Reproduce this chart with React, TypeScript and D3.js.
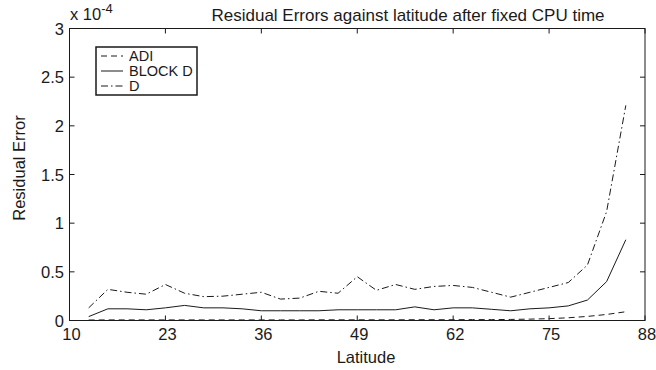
import React from "react";
import * as d3 from "d3";

const latitudes = [12.6, 15.2, 17.8, 20.4, 23, 25.6, 28.2, 30.8, 33.4, 36, 38.6, 41.2, 43.8, 46.4, 49, 51.6, 54.2, 56.8, 59.4, 62, 64.6, 67.2, 69.8, 72.4, 75, 77.6, 80.2, 82.8, 85.4];
const adi = [0.005, 0.006, 0.006, 0.006, 0.006, 0.006, 0.006, 0.006, 0.006, 0.006, 0.006, 0.006, 0.007, 0.007, 0.007, 0.007, 0.007, 0.008, 0.008, 0.008, 0.009, 0.009, 0.011, 0.014, 0.019, 0.028, 0.042, 0.062, 0.09];
const blockD = [0.04, 0.12, 0.12, 0.11, 0.13, 0.155, 0.13, 0.13, 0.12, 0.1, 0.1, 0.1, 0.1, 0.11, 0.11, 0.11, 0.11, 0.14, 0.11, 0.13, 0.13, 0.115, 0.1, 0.12, 0.13, 0.15, 0.21, 0.4, 0.83];
const dSeries = [0.13, 0.32, 0.29, 0.27, 0.37, 0.28, 0.245, 0.25, 0.27, 0.29, 0.22, 0.23, 0.3, 0.28, 0.45, 0.31, 0.37, 0.32, 0.35, 0.36, 0.34, 0.29, 0.24, 0.29, 0.34, 0.39, 0.57, 1.12, 2.21];
const xTicks = [10, 23, 36, 49, 62, 75, 88];
const yTicks = [0, 0.5, 1, 1.5, 2, 2.5, 3];
const seriesNames = ["ADI", "BLOCK D", "D"];

const W = 656, H = 370;
const M = { left: 69.5, right: 645, top: 28.5, bottom: 320.5 };
const FONT = "'Liberation Sans', Arial, Helvetica, sans-serif";
const INK = "#1a1a1a";

export default function App() {
  const x = d3.scaleLinear().domain([10, 88]).range([M.left, M.right]);
  const y = d3.scaleLinear().domain([0, 3]).range([M.bottom, M.top]);
  const line = d3.line<number>().x((_, i) => x(latitudes[i])).y((v) => y(v));
  const dashes = ["6,4", null, "7,3,1.5,3"];
  const data = [adi, blockD, dSeries];
  const tick = 5;
  const fs = 16.5;
  return (
    <svg width={W} height={H} style={{ position: "absolute", left: 0, top: 0, background: "#fff" }}>
      <rect x={0} y={0} width={W} height={H} fill="#fff" />
      <text x={408} y={21} textAnchor="middle" fontFamily={FONT} fontSize={17} fill={INK}>
        Residual Errors against latitude after fixed CPU time
      </text>
      {data.map((s, i) => (
        <path key={i} d={line(s) || ""} fill="none" stroke={INK} strokeWidth={1} strokeDasharray={dashes[i] || undefined} />
      ))}
      <rect x={M.left} y={M.top} width={M.right - M.left} height={M.bottom - M.top} fill="none" stroke={INK} strokeWidth={1} />
      {xTicks.map((t) => (
        <g key={"x" + t}>
          <line x1={x(t)} x2={x(t)} y1={M.bottom} y2={M.bottom - tick} stroke={INK} />
          <line x1={x(t)} x2={x(t)} y1={M.top} y2={M.top + tick} stroke={INK} />
          <text x={x(t) + 2} y={340} textAnchor="middle" fontFamily={FONT} fontSize={fs} fill={INK}>{t}</text>
        </g>
      ))}
      {yTicks.map((t) => (
        <g key={"y" + t}>
          <line x1={M.left} x2={M.left + tick} y1={y(t)} y2={y(t)} stroke={INK} />
          <line x1={M.right} x2={M.right - tick} y1={y(t)} y2={y(t)} stroke={INK} />
          <text x={64} y={y(t) + 6} textAnchor="end" fontFamily={FONT} fontSize={fs} fill={INK}>{t}</text>
        </g>
      ))}
      <text x={70} y={20} fontFamily={FONT} fontSize={fs} fill={INK}>
        x 10<tspan dy={-7} fontSize={13}>-4</tspan>
      </text>
      <text transform={`translate(25,168) rotate(-90)`} textAnchor="middle" fontFamily={FONT} fontSize={fs} fill={INK}>
        Residual Error
      </text>
      <text x={366} y={363} textAnchor="middle" fontFamily={FONT} fontSize={fs} fill={INK}>
        Latitude
      </text>
      <rect x={96} y={47} width={101} height={48} fill="#fff" stroke={INK} strokeWidth={1.5} />
      {seriesNames.map((n, i) => (
        <g key={n}>
          <line x1={101} x2={123} y1={56 + i * 15} y2={56 + i * 15} stroke={INK} strokeDasharray={dashes[i] || undefined} />
          <text x={129} y={61 + i * 15} fontFamily={FONT} fontSize={14.5} fill={INK}>{n}</text>
        </g>
      ))}
    </svg>
  );
}
